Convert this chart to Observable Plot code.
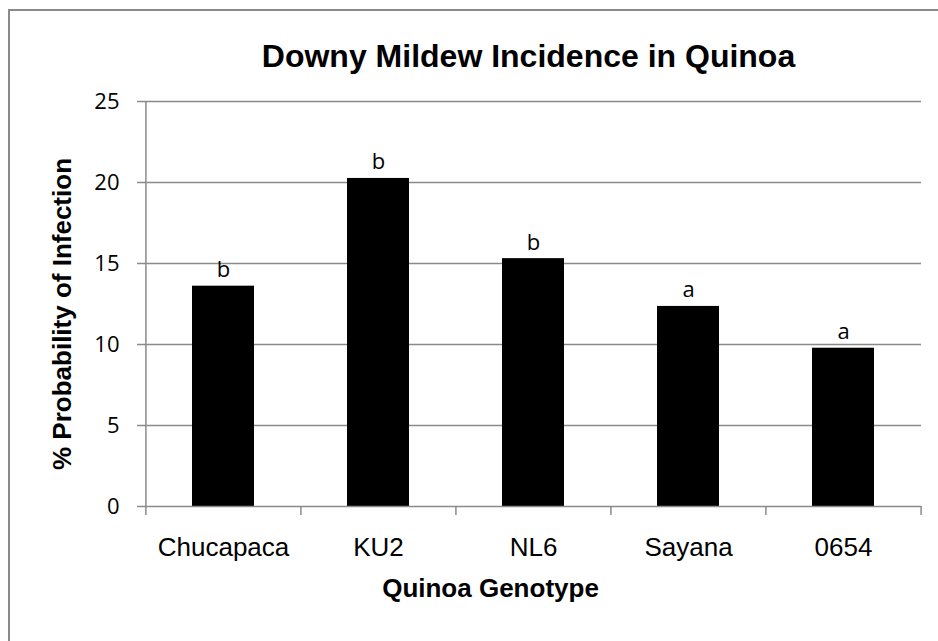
<!DOCTYPE html>
<html>
<head>
<meta charset="utf-8">
<script src="https://cdn.jsdelivr.net/npm/d3@7"></script>
<script src="https://cdn.jsdelivr.net/npm/@observablehq/plot@0.6"></script>
<style>
  html, body { margin: 0; padding: 0; background: #fff; overflow: hidden; }
  #wrap { position: relative; width: 938px; height: 641px; overflow: hidden; }
  #border { position: absolute; left: 8px; top: 9px; width: 1000px; height: 700px;
            border: 2px solid #8a8a8a; pointer-events: none; z-index: 2; }
  #chart { position: absolute; left: 0; top: 0; }
</style>
</head>
<body>
<div id="wrap">
  <div id="chart"></div>
  <div id="border"></div>
</div>
<script>
const genotypes = ["Chucapaca", "KU2", "NL6", "Sayana", "0654"];
const infection = [13.6, 20.25, 15.3, 12.35, 9.77];
const letters = ["b", "b", "b", "a", "a"];
const yTicks = [0, 5, 10, 15, 20, 25];

const title = "Downy Mildew Incidence in Quinoa";
const xLabel = "Quinoa Genotype";
const yLabel = "% Probability of Infection";

const data = genotypes.map((g, i) => ({genotype: g, value: infection[i], letter: letters[i]}));

const W = 938, H = 641;
const mL = 145, mR = 17, mT = 101, mB = 135;
const step = (W - mL - mR) / genotypes.length;
const grid = "#8a8a8a";
const arial = "'Liberation Sans', Arial, sans-serif";
const calib = "'Open Sans', 'Noto Sans', sans-serif";

const chart = Plot.plot({
  width: W,
  height: H,
  marginLeft: mL,
  marginRight: mR,
  marginTop: mT,
  marginBottom: mB,
  style: {background: "transparent"},
  x: {domain: genotypes, paddingInner: 0.6, paddingOuter: 0.3, label: null},
  y: {domain: [0, 25], label: null},
  marks: [
    Plot.ruleY(yTicks.filter(d => d > 0), {stroke: grid, strokeWidth: 1.5}),
    Plot.barY(data, {x: "genotype", y: "value", fill: "#000"}),
    Plot.ruleY([0], {stroke: grid, strokeWidth: 1.5}),
    Plot.ruleX([genotypes[0]], {x: d => d, dx: -step / 2, stroke: grid, strokeWidth: 1.5}),
    // category boundary ticks below the x axis
    Plot.ruleX(genotypes, {x: d => d, dx: -step / 2, insetTop: H - mT - mB, insetBottom: -9, stroke: grid, strokeWidth: 1.5}),
    Plot.ruleX([genotypes[genotypes.length - 1]], {x: d => d, dx: step / 2, insetTop: H - mT - mB, insetBottom: -9, stroke: grid, strokeWidth: 1.5}),
    Plot.axisY({ticks: yTicks, tickSize: 8, tickPadding: 18, stroke: grid, strokeWidth: 1.5,
      fontSize: 22, fontFamily: calib, fill: "#000", label: null}),
    Plot.axisX({tickSize: 0, tickPadding: 31, fontSize: 26, fontFamily: arial, fill: "#000", label: null}),
    Plot.text(data, {x: "genotype", y: "value", text: "letter", dy: -16, fontSize: 22,
      fontFamily: calib, fill: "#000"}),
    Plot.text([title], {frameAnchor: "top", lineAnchor: "middle", textAnchor: "middle", dx: -5, dy: -44.5,
      fontSize: 32, fontWeight: "bold", fontFamily: arial, fill: "#000"}),
    Plot.text([xLabel], {frameAnchor: "bottom", lineAnchor: "middle", textAnchor: "middle", dx: -43, dy: 82,
      fontSize: 26, fontWeight: "bold", fontFamily: arial, fill: "#000"}),
    Plot.text([yLabel], {frameAnchor: "left", lineAnchor: "middle", textAnchor: "middle", dx: -83, dy: 10,
      rotate: -90, fontSize: 26, fontWeight: "bold", fontFamily: arial, fill: "#000"})
  ]
});
document.getElementById("chart").appendChild(chart);
</script>
</body>
</html>
